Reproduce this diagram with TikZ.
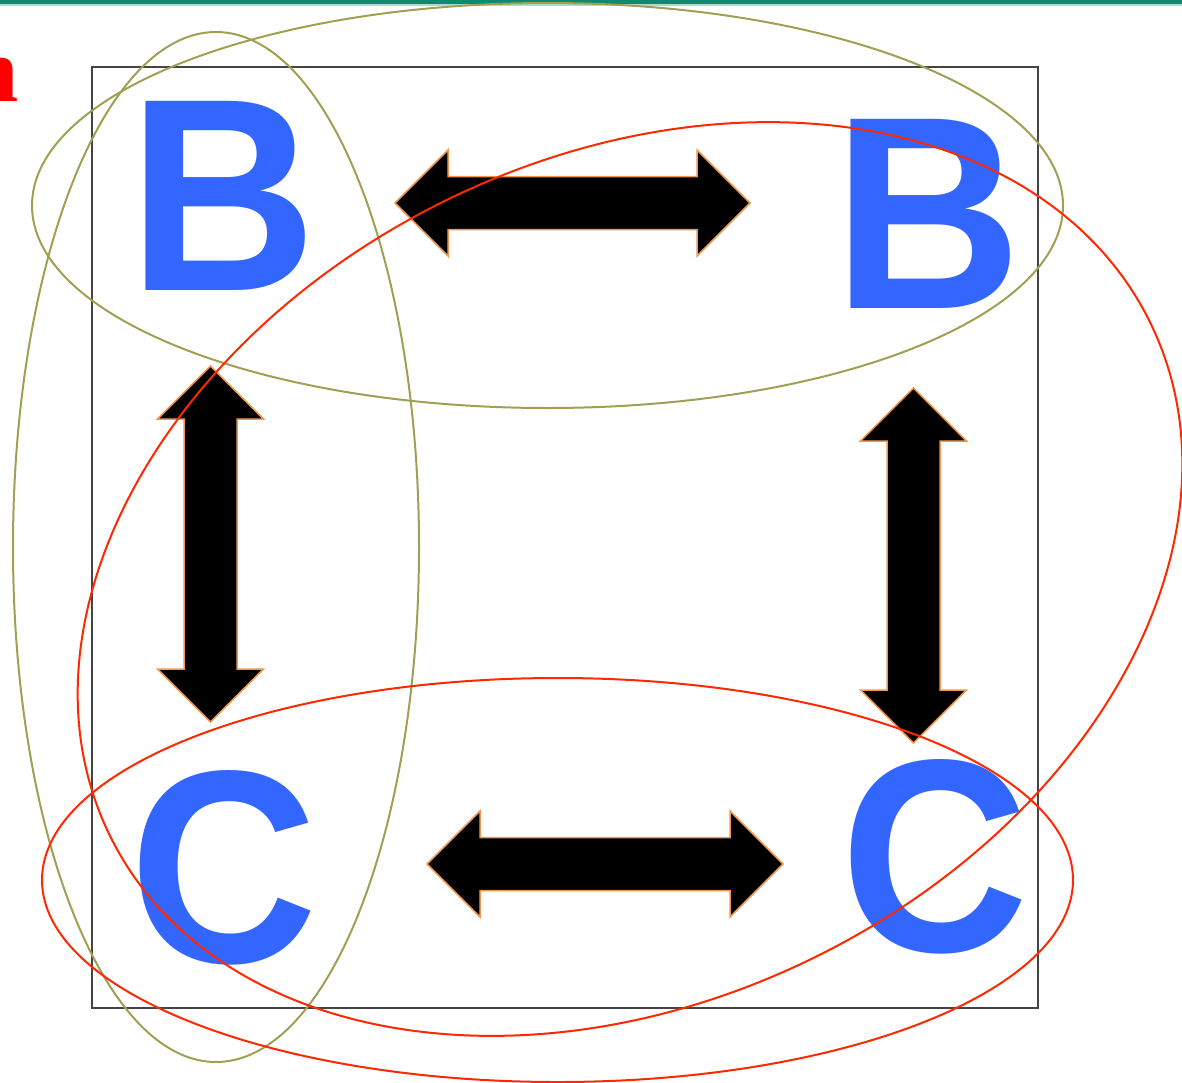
\documentclass[tikz,border=0pt]{standalone}
\usepackage{fontspec}
\newfontfamily\lsans{Liberation Sans}
\newfontfamily\lserif{Liberation Serif}
\definecolor{letterblue}{RGB}{51,102,255}
\definecolor{olive2}{RGB}{160,160,85}
\definecolor{redline}{RGB}{255,40,0}
\definecolor{arrowedge}{RGB}{240,150,80}
\definecolor{teal2}{RGB}{14,138,110}
\definecolor{teallight}{RGB}{170,220,205}
\definecolor{framegray}{RGB}{68,68,68}
\newcommand\dblarrowshape[1]{%
  \filldraw[blockarrow] (0,0) -- (53,-53) -- (53,-26.5) -- (#1-53,-26.5) -- (#1-53,-53) -- (#1,0)
    -- (#1-53,53) -- (#1-53,26.5) -- (53,26.5) -- (53,53) -- cycle;}
\tikzset{
  letter/.style={text=letterblue, inner sep=0pt, anchor=base, xscale=0.95, font=\lsans\bfseries\fontsize{275}{275}\selectfont},
  blockarrow/.style={fill=black, draw=arrowedge, line width=1.5pt, line join=miter},
  oliveloop/.style={draw=olive2, line width=2pt},
  redloop/.style={draw=redline, line width=2pt},
}
\begin{document}
\begin{tikzpicture}[x=1pt,y=-1pt]
\useasboundingbox (0,0) rectangle (1182,1082);
% top rule
\fill[teal2] (0,0) rectangle (1182,4);
\fill[teallight] (0,4) rectangle (1182,5.5);
% clipped red letter (cut by the left edge, as in the reference)
\node[anchor=base east, inner sep=0pt, text=red, font=\lserif\bfseries\fontsize{92}{92}\selectfont] (redn) at (19,101) {n};
% frame
\draw[framegray, line width=1.6pt] (92,67) rectangle (1038,1008);
% letters
\node[letter] (B1) at (223,290) {B};
\node[letter] (B2) at (928,308) {B};
\node[letter] (C1) at (224,962) {C};
\node[letter] (C2) at (935,951) {C};
% double arrows
\begin{scope}[shift={(395,203)}] \dblarrowshape{355} \end{scope}
\begin{scope}[shift={(427,864)}] \dblarrowshape{356} \end{scope}
\begin{scope}[shift={(210.5,366)}, rotate=-90] \dblarrowshape{356} \end{scope}
\begin{scope}[shift={(913.5,388)}, rotate=-90] \dblarrowshape{355} \end{scope}
% loops
\draw[oliveloop] (547.5,205.5) ellipse [x radius=515.5pt, y radius=202.5pt];
\draw[oliveloop] (216,547) ellipse [x radius=203pt, y radius=515pt];
\draw[redloop] (557.5,880) ellipse [x radius=515.5pt, y radius=202pt];
\draw[redloop, rotate around={26.4:(630,579)}] (630,579) ellipse [x radius=580pt, y radius=421pt];
\end{tikzpicture}
\end{document}
